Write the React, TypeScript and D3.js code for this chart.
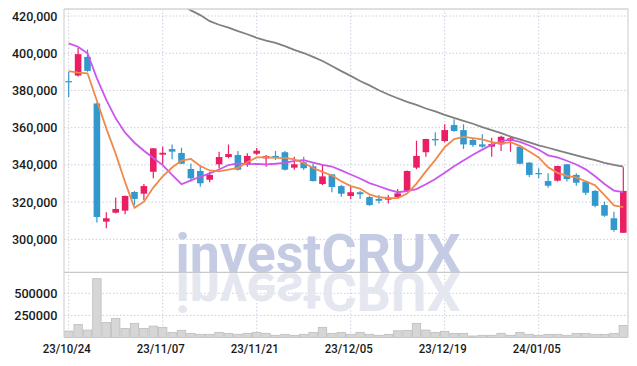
import React from "react";
import * as d3 from "d3";

const dates = [
  "23/10/24","23/10/25","23/10/26","23/10/27","23/10/30","23/10/31","23/11/01","23/11/02","23/11/03","23/11/06",
  "23/11/07","23/11/08","23/11/09","23/11/10","23/11/13","23/11/14","23/11/15","23/11/16","23/11/17","23/11/20",
  "23/11/21","23/11/22","23/11/23","23/11/24","23/11/27","23/11/28","23/11/29","23/11/30","23/12/01","23/12/04",
  "23/12/05","23/12/06","23/12/07","23/12/08","23/12/11","23/12/12","23/12/13","23/12/14","23/12/15","23/12/18",
  "23/12/19","23/12/20","23/12/21","23/12/22","23/12/26","23/12/27","23/12/28","24/01/02","24/01/03","24/01/04",
  "24/01/05","24/01/08","24/01/09","24/01/10","24/01/11","24/01/12","24/01/15","24/01/16","24/01/17","24/01/18",
];
const opens = [
  385000,388000,398000,373000,309500,314300,315400,325400,324500,336300,
  345500,348500,346400,337800,336700,332000,340300,344200,345300,340300,
  346000,343500,344800,346800,338500,341400,339200,329700,334900,328600,
  323300,325300,322700,321700,321300,322600,326000,338500,346800,353900,
  352800,361400,358700,353400,351000,349800,351000,352800,349800,341200,
  335600,331300,331500,340300,334600,331000,326000,318400,311300,303500,
];
const highs = [
  390000,403000,402000,373500,314500,322400,323500,326000,329700,349000,
  349800,351000,349200,340800,339600,336300,347000,351000,347500,346200,
  349000,345300,347500,347500,344400,344400,340800,340000,335000,329200,
  328300,326000,323400,323800,323800,327000,337000,352900,354000,357500,
  361800,364500,361800,354300,356400,354600,355700,355700,350700,341500,
  338200,335500,339500,340500,335500,331500,326500,320200,314800,338700,
];
const lows = [
  376500,387500,390000,309000,306000,314000,313400,318400,321000,332800,
  340300,343000,340500,331000,328300,330600,338000,343500,337000,339000,
  345300,339000,342600,337000,337400,337200,331000,329200,325300,322900,
  321700,321700,318000,319300,319300,321700,325700,337600,344400,350300,
  352100,357800,348500,349800,349200,344400,347500,347100,340300,333500,
  332800,327700,331000,331000,328800,323800,317200,312100,304100,303500,
];
const closes = [
  384500,399500,390500,312000,311300,316300,323300,321700,328600,348900,
  346500,347100,340600,332800,330100,334600,344200,345800,337400,344800,
  347600,344800,344200,337400,340300,338200,331300,333800,328100,324500,
  325300,324200,318400,320700,322400,324700,336700,344800,353900,353200,
  358700,358200,351000,350700,349800,351200,355100,354300,340600,334600,
  335300,328800,339400,332400,330400,325000,318000,312700,305000,326000,
];
const volumes = [
  73000,148000,84000,665000,171000,216000,103000,160000,103000,129000,
  115000,58000,81000,47000,36000,36000,58000,47000,36000,47000,
  58000,47000,25000,36000,25000,36000,58000,115000,47000,58000,
  36000,58000,36000,25000,36000,76000,81000,160000,84000,58000,
  70000,47000,47000,17000,25000,25000,47000,25000,58000,36000,
  25000,36000,36000,25000,47000,47000,36000,36000,47000,137000,
];
const ma5 = [
  390400,389600,389200,374500,359600,345900,330700,316900,320200,327800,
  333800,338600,342300,343200,339400,337000,336500,337500,338400,341400,
  344000,344100,343800,343800,342900,341000,338300,336200,334300,331200,
  328600,327200,324100,322600,322200,322100,324600,329900,336500,342700,
  349500,353800,355000,354400,353700,352200,351600,352200,350200,347200,
  344000,338700,335700,334100,333300,331200,329000,323700,318200,317300,
];
const ma10 = [
  405300,403500,400000,386500,374900,365000,357300,351900,347600,343700,
  339900,334600,329600,331700,333600,335400,337500,339900,340800,340400,
  340500,340300,340600,341100,342100,342500,341200,340000,339100,337000,
  334800,332700,330200,328500,326700,325300,325900,327000,329600,332400,
  335800,339200,342400,345400,348200,350800,352700,353600,352300,350400,
  348100,345100,344000,342200,340200,337600,333900,329700,326200,325300,
];
const ma60 = [
  454000,452000,450000,448000,445500,443000,440500,438000,435500,433000,
  430500,428000,425700,423000,420500,417200,415300,413700,411900,410200,
  408300,406800,405500,403800,401800,400100,398000,395800,393100,390400,
  387800,385100,382700,380100,377800,375800,373900,372200,370300,368700,
  366900,365200,363600,362100,360300,358700,357100,355200,353700,352100,
  350500,349200,347800,346500,345100,343800,342500,341100,340000,339000,
];
const priceTicks = [300000, 320000, 340000, 360000, 380000, 400000, 420000];
const volumeTicks = [250000, 500000];
const labelIndices = [0, 10, 20, 30, 40, 50];

const W = 637, H = 366;
const L = 64, R = 628;
const PT = 9, PB = 272.3;
const VT = 272.3, VB = 337.5;

const UP = "#e91e63";
const DOWN = "#3399cc";
const GRID = "#c9cee2";
const FONT = "Roboto, 'Noto Sans', sans-serif";

export default function App() {
  const idx = dates.map((_, i) => i);
  const x = d3.scaleBand<number>().domain(idx).range([L, R]).padding(0);
  const bw = x.bandwidth();
  const cx = (i: number) => (x(i) as number) + bw / 2;
  const y = d3.scaleLinear().domain([282266, 423764]).range([PB, PT]);
  const yv = d3.scaleLinear().domain([0, 737557]).range([VB, VT]);

  const line = (vals: number[]) =>
    d3.line<number>().x((_, i) => cx(i)).y((v) => y(v))(vals) as string;

  const fmt = d3.format(",");
  const bodyW = 6.6;

  return (
    <svg width={W} height={H} style={{ position: "absolute", left: 0, top: 0, background: "#fff" }}>
      <defs>
        <clipPath id="pclip">
          <rect x={L} y={PT} width={R - L} height={PB - PT} />
        </clipPath>
        <clipPath id="reflclip">
          <rect x={L} y={PB + 1} width={R - L} height={VB - PB - 1} />
        </clipPath>
      </defs>
      <rect x={0} y={0} width={W} height={H} fill="#fff" />

      {/* grid */}
      {priceTicks.map((t) => (
        <line key={"hg" + t} x1={L} x2={R} y1={y(t)} y2={y(t)} stroke={GRID} strokeDasharray="1.5,2" />
      ))}
      {volumeTicks.map((t) => (
        <line key={"vg" + t} x1={L} x2={R} y1={yv(t)} y2={yv(t)} stroke={GRID} strokeDasharray="1.5,2" />
      ))}
      {labelIndices.map((i) => (
        <line key={"xg" + i} x1={cx(i)} x2={cx(i)} y1={PT} y2={VB} stroke={GRID} strokeDasharray="1.5,2" />
      ))}

      {/* watermark */}
      <text x={318} y={PB} textAnchor="middle" fontFamily={FONT} fontWeight={700} fontSize={53}
        fill="#c4cbe3" textLength={285} lengthAdjust="spacingAndGlyphs">investCRUX</text>
      <g clipPath="url(#reflclip)">
        <text x={318} y={-PB - 1} transform="scale(1,-1)" textAnchor="middle" fontFamily={FONT} fontWeight={700} fontSize={53}
          fill="#e4e7f0" textLength={285} lengthAdjust="spacingAndGlyphs">investCRUX</text>
      </g>

      {/* volume bars */}
      {volumes.map((v, i) => (
        <rect key={"v" + i} x={(x(i) as number) + 0.5} y={yv(v)} width={bw - 1} height={VB - yv(v)}
          fill="#d6d6d6" stroke="#bdbdbd" strokeWidth={0.8} />
      ))}

      {/* candles */}
      <g clipPath="url(#pclip)">
        {closes.map((c, i) => {
          const o = opens[i];
          const up = c >= o;
          const col = up ? UP : DOWN;
          const top = y(Math.max(o, c));
          const bot = y(Math.min(o, c));
          return (
            <g key={"c" + i}>
              <line x1={cx(i)} x2={cx(i)} y1={y(highs[i])} y2={y(lows[i])} stroke={col} strokeWidth={1.2} />
              <rect x={cx(i) - bodyW / 2} y={top} width={bodyW} height={Math.max(1.2, bot - top)} fill={col} />
            </g>
          );
        })}
        <path d={line(ma60)} fill="none" stroke="#808080" strokeWidth={1.8} />
        <path d={line(ma10)} fill="none" stroke="#cc55ee" strokeWidth={1.8} />
        <path d={line(ma5)} fill="none" stroke="#f08a4b" strokeWidth={1.8} />
      </g>

      {/* borders */}
      <line x1={L} x2={R} y1={PT} y2={PT} stroke="#d4d4d4" strokeWidth={1.5} />
      <line x1={L} x2={L} y1={PT} y2={VB} stroke="#d4d4d4" strokeWidth={1.2} />
      <line x1={R} x2={R} y1={PT} y2={VB} stroke="#d4d4d4" strokeWidth={1.2} />
      <line x1={L} x2={R} y1={PB} y2={PB} stroke="#c8c8c8" strokeWidth={1.2} />

      {/* axis labels */}
      {priceTicks.map((t) => (
        <text key={"pt" + t} x={57.5} y={y(t)} dy="0.35em" textAnchor="end" fontFamily={FONT}
          fontSize={13} fontWeight={500} fill="#1a1a1a" textLength={45.5} lengthAdjust="spacingAndGlyphs">{fmt(t)}</text>
      ))}
      {volumeTicks.map((t) => (
        <text key={"vt" + t} x={57.5} y={yv(t)} dy="0.35em" textAnchor="end" fontFamily={FONT}
          fontSize={13} fontWeight={500} fill="#1a1a1a" textLength={43.3} lengthAdjust="spacingAndGlyphs">{t}</text>
      ))}
      {labelIndices.map((i) => (
        <text key={"xt" + i} x={cx(i) - 2} y={353} textAnchor="middle" fontFamily={FONT}
          fontSize={13} fontWeight={500} fill="#1a1a1a" textLength={48} lengthAdjust="spacingAndGlyphs">{dates[i]}</text>
      ))}
    </svg>
  );
}
